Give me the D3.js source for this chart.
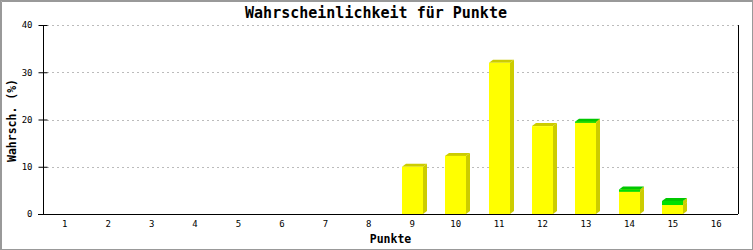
<!doctype html>
<html>
<head>
<meta charset="utf-8">
<script src="https://cdn.jsdelivr.net/npm/d3@7"></script>
<style>
  body { margin: 0; background: #fff; }
  svg { display: block; }
  text { font-family: "DejaVu Sans Mono", monospace; fill: #000; }
</style>
</head>
<body>
<svg id="chart" width="753" height="250"></svg>
<script>
  // Punkte (categories)
  var punkte = ['1', '2', '3', '4', '5', '6', '7', '8', '9', '10', '11', '12', '13', '14', '15', '16'];
  // yellow series (%)
  var gelb = [0, 0, 0, 0, 0, 0, 0, 0, 10.0, 12.3, 32.0, 18.6, 19.3, 4.7, 1.9, 0];
  // green series stacked on top (%)
  var gruen = [0, 0, 0, 0, 0, 0, 0, 0, 0, 0, 0, 0, 0.25, 0.5, 0.85, 0];
  var yTicks = [0, 10, 20, 30, 40];

  (function () {
    var W = 753, H = 250;
    var pLeft = 43, pRight = 738, pTop = 25, pBottom = 214;
    var dx = 4, dy = 3;

    var svg = d3.select('#chart');

    // frame
    svg.append('rect').attr('x', 0.5).attr('y', 0.5).attr('width', W - 1).attr('height', H - 1)
      .attr('fill', '#fff').attr('stroke', '#999').attr('stroke-width', 1);
    svg.append('path').attr('d', 'M1.5,' + (H - 1) + 'V1.5H' + (W - 1))
      .attr('fill', 'none').attr('stroke', '#999').attr('stroke-width', 1);

    var x = d3.scaleBand().domain(punkte).range([pLeft, pRight]).padding(0);
    var y = d3.scaleLinear().domain([0, 40]).range([pBottom, pTop]);

    // grid
    svg.append('g').selectAll('line').data(yTicks.filter(function (d) { return d > 0; }))
      .enter().append('line')
      .attr('x1', pLeft + 4).attr('x2', pRight)
      .attr('y1', function (d) { return Math.round(y(d)) + 0.5; })
      .attr('y2', function (d) { return Math.round(y(d)) + 0.5; })
      .attr('stroke', '#bbb').attr('stroke-dasharray', '2,3');

    // bars
    var fw = x.bandwidth() * 0.485;
    var series = [
      { vals: gelb, base: function () { return 0; }, front: '#ffff00', topc: '#cccc00', side: '#cccc00' },
      { vals: gruen, base: function (i) { return gelb[i]; }, front: '#00e000', topc: '#00c800', side: '#cccc00' }
    ];
    var bars = svg.append('g');
    series.forEach(function (s) {
      var g = bars.append('g');
      punkte.forEach(function (p, i) {
        var v = s.vals[i];
        if (!v) return;
        var x0 = Math.round(x(p) + x.bandwidth() / 2 - fw / 2), x1 = x0 + Math.round(fw);
        var yb = y(s.base(i)), yt = y(s.base(i) + v);
        // side
        g.append('path')
          .attr('d', 'M' + x1 + ',' + yt + 'L' + (x1 + dx) + ',' + (yt - dy) + 'L' + (x1 + dx) + ',' + (yb - dy) + 'L' + x1 + ',' + yb + 'Z')
          .attr('fill', s.side);
        // top
        g.append('path')
          .attr('d', 'M' + x0 + ',' + yt + 'L' + (x0 + dx) + ',' + (yt - dy) + 'L' + (x1 + dx) + ',' + (yt - dy) + 'L' + x1 + ',' + yt + 'Z')
          .attr('fill', s.topc);
        // front
        g.append('rect').attr('x', x0).attr('y', yt).attr('width', x1 - x0).attr('height', yb - yt)
          .attr('fill', s.front);
      });
    });

    // axes
    var yAxis = svg.append('g').attr('transform', 'translate(' + (pLeft + 0.5) + ',0)')
      .call(d3.axisLeft(y).tickValues(yTicks).tickSize(5).tickPadding(6));
    yAxis.select('.domain').remove();
    yAxis.append('line').attr('x1', 0).attr('x2', 0).attr('y1', pTop).attr('y2', pBottom).attr('stroke', '#000');
    yAxis.selectAll('.tick line').attr('x1', 4).attr('stroke', '#000');
    yAxis.selectAll('.tick text').style('font-size', '9px').style('font-family', '"DejaVu Sans Mono", monospace').attr('fill', '#000');

    var xAxis = svg.append('g').attr('transform', 'translate(0,' + (pBottom + 0.5) + ')')
      .call(d3.axisBottom(x).tickSize(0).tickPadding(6));
    xAxis.select('.domain').remove();
    xAxis.append('line').attr('x1', pLeft - 5).attr('x2', pRight).attr('y1', 0).attr('y2', 0).attr('stroke', '#000');
    xAxis.selectAll('.tick text').style('font-size', '9px').style('font-family', '"DejaVu Sans Mono", monospace').attr('fill', '#000');

    // right border line
    svg.append('line').attr('x1', pRight + 0.5).attr('x2', pRight + 0.5).attr('y1', pTop).attr('y2', pBottom)
      .attr('stroke', '#000');

    // titles
    svg.append('text').attr('x', 376).attr('y', 18).attr('text-anchor', 'middle')
      .style('font-size', '15px').style('font-weight', 'bold')
      .text('Wahrscheinlichkeit für Punkte');
    svg.append('text').attr('x', (pLeft + pRight) / 2).attr('y', 243).attr('text-anchor', 'middle')
      .style('font-size', '11.5px').style('font-weight', 'bold')
      .text('Punkte');
    svg.append('text').attr('transform', 'translate(15.5,' + ((pTop + pBottom) / 2 + 1) + ') rotate(-90)')
      .attr('text-anchor', 'middle')
      .style('font-size', '11.5px').style('font-weight', 'bold')
      .text('Wahrsch. (%)');
  })();
</script>
</body>
</html>
